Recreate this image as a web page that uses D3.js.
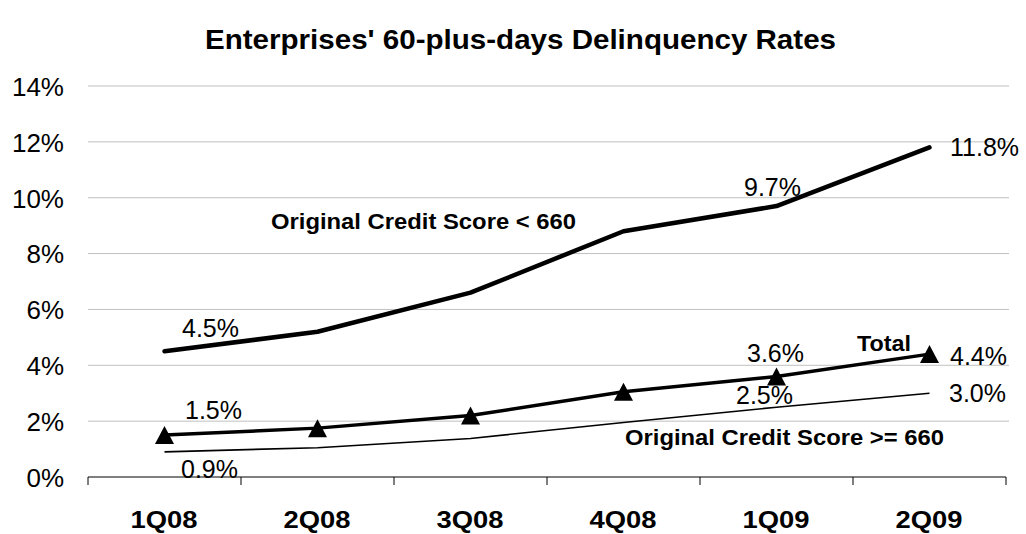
<!DOCTYPE html>
<html>
<head>
<meta charset="utf-8">
<script src="https://cdn.jsdelivr.net/npm/d3@7"></script>
<style>
  body { margin: 0; background: #fff; }
  text { font-family: Arial, "Liberation Sans", sans-serif; fill: #000; }
</style>
</head>
<body>
<svg id="chart" width="1026" height="534"></svg>
<script>
const quarters = ["1Q08", "2Q08", "3Q08", "4Q08", "1Q09", "2Q09"];
const lowScore = [4.5, 5.2, 6.6, 8.8, 9.7, 11.8];
const total = [1.5, 1.75, 2.2, 3.05, 3.6, 4.4];
const highScore = [0.9, 1.05, 1.38, 1.95, 2.5, 3.0];
const yTicks = [0, 2, 4, 6, 8, 10, 12, 14];

const svg = d3.select("#chart");

const x = d3.scaleBand()
  .domain(quarters)
  .range([88, 1006]);
const y = d3.scaleLinear()
  .domain([0, 14])
  .range([477, 86]);

const cx = q => x(q) + x.bandwidth() / 2;

// title
svg.append("text")
  .attr("x", 205)
  .attr("y", 49)
  .attr("textLength", 631)
  .attr("lengthAdjust", "spacingAndGlyphs")
  .style("font-size", "28px")
  .style("font-weight", "bold")
  .text("Enterprises' 60-plus-days Delinquency Rates");

// gridlines
svg.append("g")
  .selectAll("line")
  .data(yTicks.filter(d => d > 0))
  .enter()
  .append("line")
  .attr("x1", 88)
  .attr("x2", 1009)
  .attr("y1", d => y(d))
  .attr("y2", d => y(d))
  .attr("stroke", "#c0c0c0")
  .attr("stroke-width", 1);

// y labels
const yAxis = d3.axisLeft(y)
  .tickValues(yTicks)
  .tickFormat(d => d + "%")
  .tickSize(0)
  .tickPadding(0);
const gy = svg.append("g")
  .attr("transform", "translate(64,0)")
  .call(yAxis);
gy.select(".domain").remove();
gy.selectAll("text")
  .style("font-size", "26px")
  .style("font-family", "Arial, 'Liberation Sans', sans-serif")
  .attr("dy", "0.36em");

// x axis
const xAxis = d3.axisBottom(x)
  .tickSize(0)
  .tickFormat("");
const gx = svg.append("g")
  .attr("transform", "translate(0," + y(0) + ")")
  .call(xAxis);
gx.select(".domain").attr("stroke", "#000").attr("d", "M88,0H1006");
const edges = d3.range(quarters.length + 1).map(i => 88 + i * x.bandwidth());
gx.selectAll(".edge")
  .data(edges)
  .enter()
  .append("line")
  .attr("class", "edge")
  .attr("x1", d => d)
  .attr("x2", d => d)
  .attr("y1", 0)
  .attr("y2", 8)
  .attr("stroke", "#000");

svg.append("g")
  .selectAll("text")
  .data(quarters)
  .enter()
  .append("text")
  .attr("x", d => cx(d) - 34)
  .attr("y", 528)
  .attr("textLength", 67)
  .attr("lengthAdjust", "spacingAndGlyphs")
  .style("font-size", "23px")
  .style("font-weight", "bold")
  .text(d => d);

// lines
const line = d3.line()
  .x((d, i) => cx(quarters[i]))
  .y(d => y(d));

svg.append("path")
  .datum(lowScore)
  .attr("d", line)
  .attr("fill", "none")
  .attr("stroke", "#000")
  .attr("stroke-width", 4.5)
  .attr("stroke-linecap", "round")
  .attr("stroke-linejoin", "round");

svg.append("path")
  .datum(highScore)
  .attr("d", line)
  .attr("fill", "none")
  .attr("stroke", "#000")
  .attr("stroke-width", 1.6);

svg.append("path")
  .datum(total)
  .attr("d", line)
  .attr("fill", "none")
  .attr("stroke", "#000")
  .attr("stroke-width", 3.5)
  .attr("stroke-linejoin", "round");

// triangle markers
svg.append("g")
  .selectAll("path")
  .data(total)
  .enter()
  .append("path")
  .attr("transform", (d, i) => "translate(" + cx(quarters[i]) + "," + y(d) + ")")
  .attr("d", "M0,-9L9.5,9L-9.5,9Z")
  .attr("fill", "#000");

// data labels
const labels = [
  { t: "4.5%", x: 182, y: 337 },
  { t: "9.7%", x: 744, y: 196 },
  { t: "11.8%", x: 950, y: 156 },
  { t: "1.5%", x: 185, y: 419 },
  { t: "3.6%", x: 747, y: 362 },
  { t: "4.4%", x: 950, y: 365 },
  { t: "0.9%", x: 181, y: 478 },
  { t: "2.5%", x: 736, y: 404 },
  { t: "3.0%", x: 949, y: 402 }
];
svg.append("g")
  .selectAll("text")
  .data(labels)
  .enter()
  .append("text")
  .attr("x", d => d.x)
  .attr("y", d => d.y)
  .style("font-size", "25px")
  .text(d => d.t);

// series names
const names = [
  { t: "Original Credit Score < 660", x: 271, y: 229, w: 305 },
  { t: "Total", x: 857, y: 351, w: 54 },
  { t: "Original Credit Score >= 660", x: 625, y: 445, w: 319 }
];
svg.append("g")
  .selectAll("text")
  .data(names)
  .enter()
  .append("text")
  .attr("x", d => d.x)
  .attr("y", d => d.y)
  .attr("textLength", d => d.w)
  .attr("lengthAdjust", "spacingAndGlyphs")
  .style("font-size", "22px")
  .style("font-weight", "bold")
  .text(d => d.t);
</script>
</body>
</html>
